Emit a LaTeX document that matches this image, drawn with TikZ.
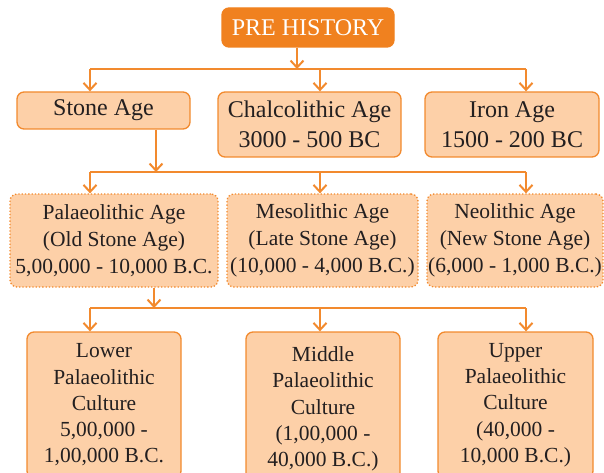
\documentclass[tikz,border=0pt]{standalone}
\usepackage{fontspec}
\setmainfont{Liberation Serif}
\usetikzlibrary{arrows.meta}
\definecolor{orng}{HTML}{F28A2E}
\definecolor{topfill}{HTML}{F0811F}
\definecolor{peach}{HTML}{FDD0A8}
\definecolor{txt}{HTML}{231F20}
\begin{document}
\begin{tikzpicture}[x=1pt,y=-1pt,
  box/.style={draw=orng, fill=peach, line width=1.3pt, rounded corners=7pt, inner sep=0pt, text=txt, align=center},
  topbox/.style={box, font=\fontsize{24}{29.5}\selectfont},
  dbox/.style={box, dotted, line width=1.3pt, font=\fontsize{21.5}{27}\selectfont},
  lowbox/.style={box, font=\fontsize{21.5}{26.3}\selectfont},
  conn/.style={draw=orng, line width=2.2pt},
  arr/.style={conn, -{Straight Barb[length=7pt,width=13pt,line width=2pt]}}]
\useasboundingbox (0,0) rectangle (604,473);

\node[box, fill=topfill, draw=topfill, text=white, font=\fontsize{24}{29}\selectfont,
      minimum width=172pt, minimum height=39pt] (pre) at (308,27.5) {PRE HISTORY};

\node[topbox, minimum width=173pt, minimum height=37pt] (stone) at (103.5,110.5) {Stone Age};
\node[topbox, minimum width=183pt, minimum height=65pt] (chalco) at (309.5,124.5) {Chalcolithic Age\\3000 - 500 BC};
\node[topbox, minimum width=174pt, minimum height=65pt] (iron) at (512,124.5) {Iron Age\\1500 - 200 BC};

\node[dbox, minimum width=208pt, minimum height=93pt] (palaeo) at (114,240.5) {Palaeolithic Age\\(Old Stone Age)\\5,00,000 - 10,000 B.C.};
\node[dbox, minimum width=191pt, minimum height=93pt] (meso) at (322.5,240.5) {Mesolithic Age\\(Late Stone Age)\\(10,000 - 4,000 B.C.)};
\node[dbox, minimum width=176pt, minimum height=93pt] (neo) at (515,240.5) {Neolithic Age\\(New Stone Age)\\(6,000 - 1,000 B.C.)};

\node[lowbox, minimum width=154pt, minimum height=146pt] (lower) at (104,405) {Lower\\Palaeolithic\\Culture\\5,00,000 -\\1,00,000 B.C.};
\node[lowbox, minimum width=154pt, minimum height=154pt] (middle) at (323,409) {Middle\\Palaeolithic\\Culture\\(1,00,000 -\\40,000 B.C.)};
\node[lowbox, minimum width=155pt, minimum height=146pt] (upper) at (515.5,405) {Upper\\Palaeolithic\\Culture\\(40,000 -\\10,000 B.C.)};

% level 1 connectors
\coordinate (h1) at (297,69);
\coordinate (h1L) at (90,69);
\coordinate (h1M) at (320,69);
\coordinate (h1R) at (526,69);
\draw[arr] (pre.south -| h1) -- (h1);
\draw[conn] (h1L) -- (h1R);
\draw[arr] (h1L) -- (stone.north -| h1L);
\draw[arr] (h1M) -- (chalco.north -| h1M);
\draw[arr] (h1R) -- (iron.north -| h1R);

% level 2 connectors
\coordinate (h2) at (156,172);
\coordinate (h2L) at (90,172);
\coordinate (h2M) at (320,172);
\coordinate (h2R) at (526,172);
\draw[arr] (stone.south -| h2) -- (h2);
\draw[conn] (h2L) -- (h2R);
\draw[arr] (h2L) -- (palaeo.north -| h2L);
\draw[arr] (h2M) -- (meso.north -| h2M);
\draw[arr] (h2R) -- (neo.north -| h2R);

% level 3 connectors
\coordinate (h3) at (154,308);
\coordinate (h3L) at (90,308);
\coordinate (h3M) at (320,308);
\coordinate (h3R) at (526,308);
\draw[arr] (palaeo.south -| h3) -- (h3);
\draw[conn] (h3L) -- (h3R);
\draw[arr] (h3L) -- (lower.north -| h3L);
\draw[arr] (h3M) -- (middle.north -| h3M);
\draw[arr] (h3R) -- (upper.north -| h3R);
\end{tikzpicture}
\end{document}
